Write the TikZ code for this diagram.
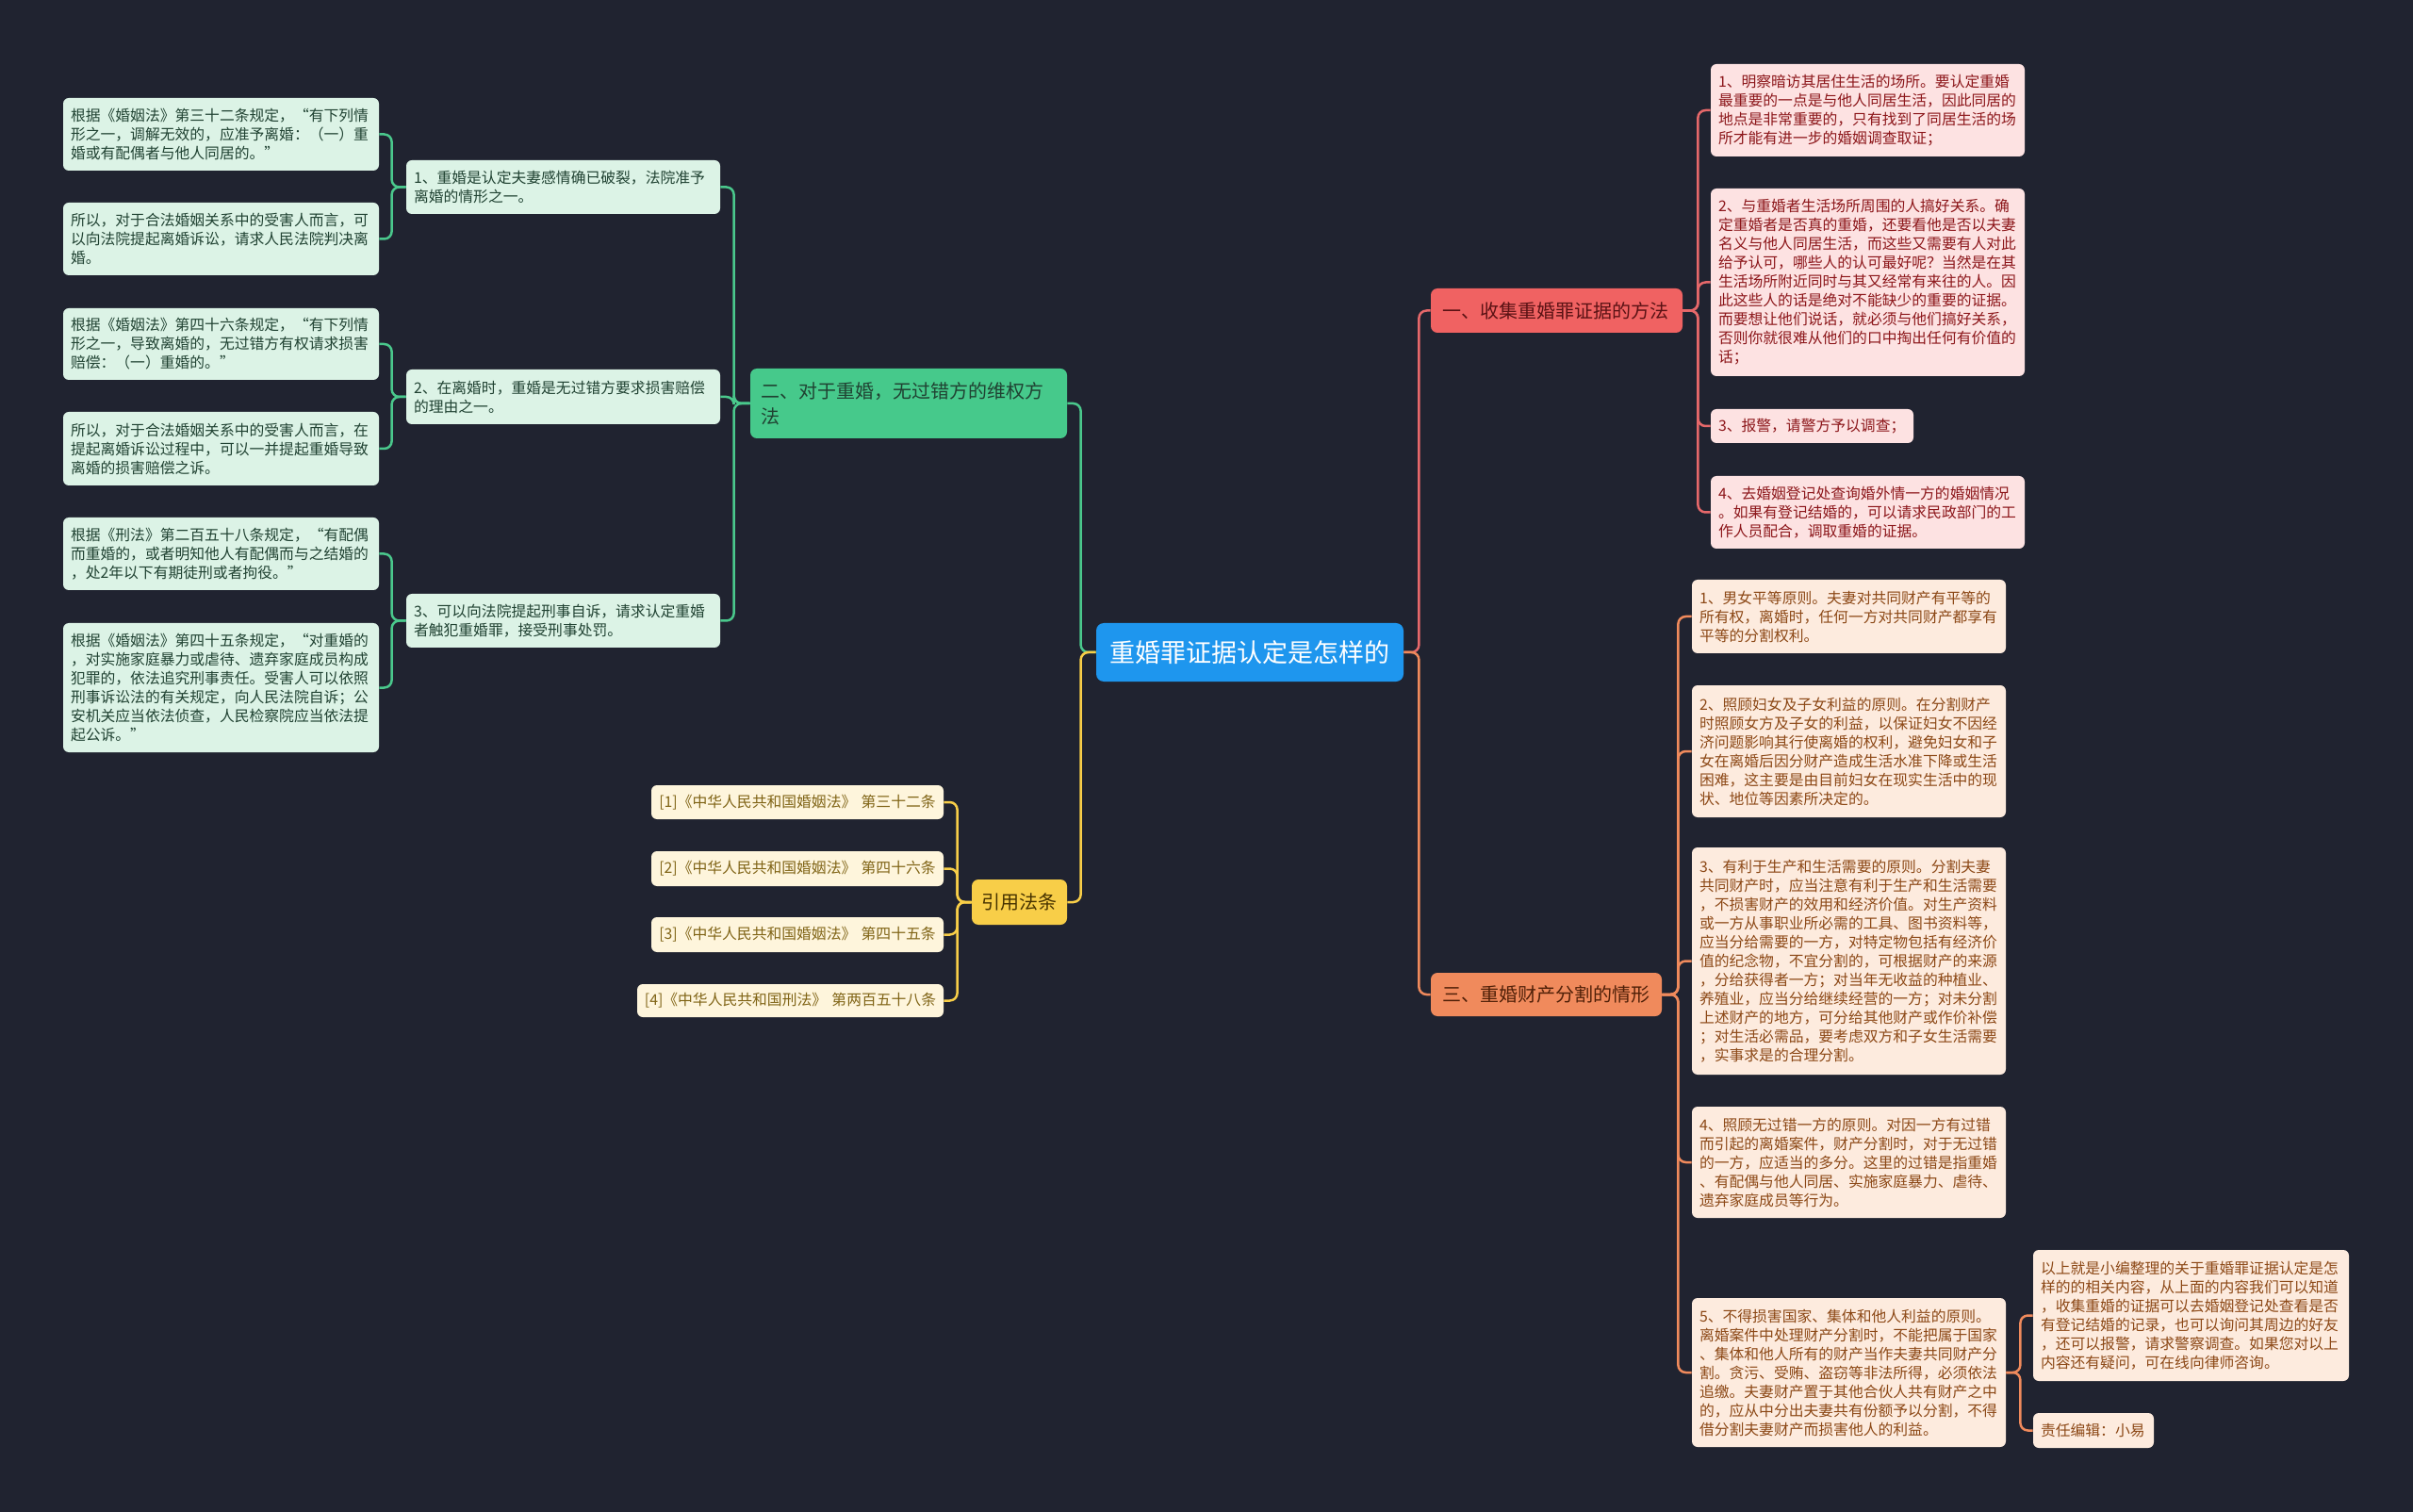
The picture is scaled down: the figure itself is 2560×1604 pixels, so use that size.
\documentclass[tikz,border=0pt]{standalone}
\usepackage{fontspec}
\setmainfont{Noto Sans CJK SC}
\setlength\lineskiplimit{-10pt}
\definecolor{bg}{RGB}{32,35,48}
\definecolor{cgreen}{RGB}{74,200,140}
\definecolor{bgreen}{RGB}{70,201,139}
\definecolor{lgreen}{RGB}{220,243,230}
\definecolor{tgreen}{RGB}{32,66,50}
\definecolor{cred}{RGB}{230,104,106}
\definecolor{bred}{RGB}{240,98,98}
\definecolor{lred}{RGB}{253,226,226}
\definecolor{tred}{RGB}{140,22,26}
\definecolor{bredt}{RGB}{90,18,20}
\definecolor{corange}{RGB}{240,138,92}
\definecolor{lorange}{RGB}{253,235,222}
\definecolor{torange}{RGB}{140,72,22}
\definecolor{borangt}{RGB}{80,32,8}
\definecolor{cyellow}{RGB}{248,206,72}
\definecolor{lyellow}{RGB}{254,245,220}
\definecolor{tyellow}{RGB}{128,100,22}
\definecolor{byellowt}{RGB}{70,50,0}
\definecolor{cblue}{RGB}{30,150,238}
\newcommand\bx[8]{%
  \pgfmathsetmacro\bxh{(#6-#4)*0.5}%
  \pgfmathsetmacro\bxt{(#5-#3-2*#8)*0.5}%
  \pgfmathsetmacro\bxp{#8*0.5}%
  \node[#2, minimum height=\bxh pt, text width=\bxt pt, inner xsep=\bxp pt, inner ysep=0pt] (#1) at ({(#3+#5)/2},{(#4+#6)/2}) {#7};}
\tikzset{
  box/.style={rounded corners=3pt, align=left, font=\fontsize{7.9pt}{10pt}\selectfont},
  gleaf/.style={box, fill=lgreen, text=tgreen},
  rleaf/.style={box, fill=lred, text=tred},
  oleaf/.style={box, fill=lorange, text=torange},
  yleaf/.style={box, fill=lyellow, text=tyellow, align=center},
  branch/.style={rounded corners=3.5pt, align=left, font=\fontsize{10pt}{13.5pt}\selectfont},
  conn/.style={line width=1.25pt, rounded corners=4pt},
}
\begin{document}
\begin{tikzpicture}[x=0.5pt,y=-0.5pt]
\fill[bg] (0,0) rectangle (2560,1604);
\useasboundingbox (0,0) rectangle (2560,1604);

% center
\bx{center}{rounded corners=4pt, fill=cblue, text=white, align=center, font=\fontsize{13.5pt}{16pt}\selectfont}{1163}{661}{1489}{723}{重婚罪证据认定是怎样的}{8}

% branches
\bx{b1}{branch, fill=bred, text=bredt}{1518}{306}{1785}{353}{一、收集重婚罪证据的方法}{12}
\bx{b3}{branch, fill=corange, text=borangt}{1518}{1032}{1763}{1078}{三、重婚财产分割的情形}{12}
\bx{b2}{branch, fill=bgreen, text=tgreen}{796}{391}{1132}{465}{二、对于重婚，无过错方的维权方\\法}{11}
\bx{yb}{branch, fill=cyellow, text=byellowt, align=center}{1031}{933}{1132}{981}{引用法条}{6}

% green level 2
\bx{g1}{gleaf}{431}{170}{764}{227}{1、重婚是认定夫妻感情确已破裂，法院准予\\离婚的情形之一。}{8}
\bx{g2}{gleaf}{431}{392}{764}{450}{2、在离婚时，重婚是无过错方要求损害赔偿\\的理由之一。}{8}
\bx{g3}{gleaf}{431}{630}{764}{687}{3、可以向法院提起刑事自诉，请求认定重婚\\者触犯重婚罪，接受刑事处罚。}{8}

% green leaves
\bx{l1}{gleaf}{67}{104}{402}{181}{根据《婚姻法》第三十二条规定，“有下列情\\形之一，调解无效的，应准予离婚：（一）重\\婚或有配偶者与他人同居的。”}{8}
\bx{l2}{gleaf}{67}{215}{402}{292}{所以，对于合法婚姻关系中的受害人而言，可\\以向法院提起离婚诉讼，请求人民法院判决离\\婚。}{8}
\bx{l3}{gleaf}{67}{327}{402}{403}{根据《婚姻法》第四十六条规定，“有下列情\\形之一，导致离婚的，无过错方有权请求损害\\赔偿：（一）重婚的。”}{8}
\bx{l4}{gleaf}{67}{437}{402}{515}{所以，对于合法婚姻关系中的受害人而言，在\\提起离婚诉讼过程中，可以一并提起重婚导致\\离婚的损害赔偿之诉。}{8}
\bx{l5}{gleaf}{67}{549}{402}{626}{根据《刑法》第二百五十八条规定，“有配偶\\而重婚的，或者明知他人有配偶而与之结婚的\\，处2年以下有期徒刑或者拘役。”}{8}
\bx{l6}{gleaf}{67}{661}{402}{798}{根据《婚姻法》第四十五条规定，“对重婚的\\，对实施家庭暴力或虐待、遗弃家庭成员构成\\犯罪的，依法追究刑事责任。受害人可以依照\\刑事诉讼法的有关规定，向人民法院自诉；公\\安机关应当依法侦查，人民检察院应当依法提\\起公诉。”}{8}

% citations
\bx{c1}{yleaf}{691}{833}{1001}{869}{[1]《中华人民共和国婚姻法》 第三十二条}{6}
\bx{c2}{yleaf}{691}{903}{1001}{940}{[2]《中华人民共和国婚姻法》 第四十六条}{6}
\bx{c3}{yleaf}{691}{973}{1001}{1010}{[3]《中华人民共和国婚姻法》 第四十五条}{6}
\bx{c4}{yleaf}{676}{1044}{1001}{1079}{[4]《中华人民共和国刑法》 第两百五十八条}{6}

% red leaves
\bx{r1}{rleaf}{1815}{68}{2148}{166}{1、明察暗访其居住生活的场所。要认定重婚\\最重要的一点是与他人同居生活，因此同居的\\地点是非常重要的，只有找到了同居生活的场\\所才能有进一步的婚姻调查取证；}{8}
\bx{r2}{rleaf}{1815}{200}{2148}{399}{2、与重婚者生活场所周围的人搞好关系。确\\定重婚者是否真的重婚，还要看他是否以夫妻\\名义与他人同居生活，而这些又需要有人对此\\给予认可，哪些人的认可最好呢？当然是在其\\生活场所附近同时与其又经常有来往的人。因\\此这些人的话是绝对不能缺少的重要的证据。\\而要想让他们说话，就必须与他们搞好关系，\\否则你就很难从他们的口中掏出任何有价值的\\话；}{8}
\bx{r3}{rleaf}{1815}{434}{2030}{470}{3、报警，请警方予以调查；}{8}
\bx{r4}{rleaf}{1815}{505}{2148}{582}{4、去婚姻登记处查询婚外情一方的婚姻情况\\。如果有登记结婚的，可以请求民政部门的工\\作人员配合，调取重婚的证据。}{8}

% orange leaves
\bx{o1}{oleaf}{1795}{615}{2128}{693}{1、男女平等原则。夫妻对共同财产有平等的\\所有权，离婚时，任何一方对共同财产都享有\\平等的分割权利。}{8}
\bx{o2}{oleaf}{1795}{727}{2128}{867}{2、照顾妇女及子女利益的原则。在分割财产\\时照顾女方及子女的利益，以保证妇女不因经\\济问题影响其行使离婚的权利，避免妇女和子\\女在离婚后因分财产造成生活水准下降或生活\\困难，这主要是由目前妇女在现实生活中的现\\状、地位等因素所决定的。}{8}
\bx{o3}{oleaf}{1795}{899}{2128}{1140}{3、有利于生产和生活需要的原则。分割夫妻\\共同财产时，应当注意有利于生产和生活需要\\，不损害财产的效用和经济价值。对生产资料\\或一方从事职业所必需的工具、图书资料等，\\应当分给需要的一方，对特定物包括有经济价\\值的纪念物，不宜分割的，可根据财产的来源\\，分给获得者一方；对当年无收益的种植业、\\养殖业，应当分给继续经营的一方；对未分割\\上述财产的地方，可分给其他财产或作价补偿\\；对生活必需品，要考虑双方和子女生活需要\\，实事求是的合理分割。}{8}
\bx{o4}{oleaf}{1795}{1174}{2128}{1292}{4、照顾无过错一方的原则。对因一方有过错\\而引起的离婚案件，财产分割时，对于无过错\\的一方，应适当的多分。这里的过错是指重婚\\、有配偶与他人同居、实施家庭暴力、虐待、\\遗弃家庭成员等行为。}{8}
\bx{o5}{oleaf}{1795}{1377}{2128}{1535}{5、不得损害国家、集体和他人利益的原则。\\离婚案件中处理财产分割时，不能把属于国家\\、集体和他人所有的财产当作夫妻共同财产分\\割。贪污、受贿、盗窃等非法所得，必须依法\\追缴。夫妻财产置于其他合伙人共有财产之中\\的，应从中分出夫妻共有份额予以分割，不得\\借分割夫妻财产而损害他人的利益。}{8}

% far right
\bx{f1}{oleaf}{2157}{1326}{2492}{1465}{以上就是小编整理的关于重婚罪证据认定是怎\\样的的相关内容，从上面的内容我们可以知道\\，收集重婚的证据可以去婚姻登记处查看是否\\有登记结婚的记录，也可以询问其周边的好友\\，还可以报警，请求警察调查。如果您对以上\\内容还有疑问，可在线向律师咨询。}{8}
\bx{f2}{oleaf}{2157}{1499}{2285}{1536}{责任编辑：小易}{8}

% connectors
\begin{scope}[conn]
\draw[cgreen] (center.west) -- ++(-16,0) |- (b2.east);
\draw[cyellow] (center.west) -- ++(-16,0) |- (yb.east);
\draw[cred] (center.east) -- ++(16,0) |- (b1.west);
\draw[corange] (center.east) -- ++(16,0) |- (b3.west);
\foreach \n in {g1,g2,g3} \draw[cgreen] (b2.west) -- ++(-17,0) |- (\n.east);
\draw[cgreen] (g1.west) -- ++(-15,0) |- (l1.east);
\draw[cgreen] (g1.west) -- ++(-15,0) |- (l2.east);
\draw[cgreen] (g2.west) -- ++(-15,0) |- (l3.east);
\draw[cgreen] (g2.west) -- ++(-15,0) |- (l4.east);
\draw[cgreen] (g3.west) -- ++(-15,0) |- (l5.east);
\draw[cgreen] (g3.west) -- ++(-15,0) |- (l6.east);
\foreach \n in {c1,c2,c3,c4} \draw[cyellow] (yb.west) -- ++(-15,0) |- (\n.east);
\foreach \n in {r1,r2,r3,r4} \draw[cred] (b1.east) -- ++(16,0) |- (\n.west);
\foreach \n in {o1,o2,o3,o4,o5} \draw[corange] (b3.east) -- ++(17,0) |- (\n.west);
\foreach \n in {f1,f2} \draw[corange] (o5.east) -- ++(15,0) |- (\n.west);
\end{scope}
\end{tikzpicture}
\end{document}
